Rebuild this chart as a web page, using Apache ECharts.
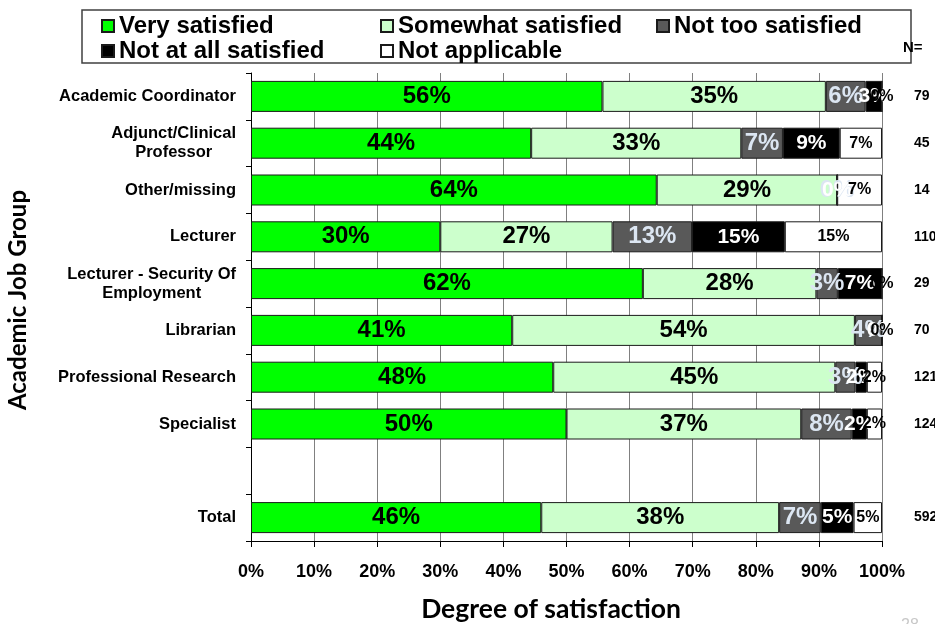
<!DOCTYPE html>
<html>
<head>
<meta charset="utf-8">
<script src="https://cdn.jsdelivr.net/npm/echarts@6/dist/echarts.min.js"></script>
<style>
  html, body { margin: 0; padding: 0; background: #ffffff; }
  #chart { width: 935px; height: 624px; }
</style>
</head>
<body>
<div id="chart"></div>
<script>
// Job groups, top to bottom (the empty entry leaves a spacer row above Total)
const categories = [
  'Academic Coordinator',
  'Adjunct/Clinical\nProfessor',
  'Other/missing',
  'Lecturer',
  'Lecturer - Security Of\nEmployment',
  'Librarian',
  'Professional Research',
  'Specialist',
  '',
  'Total'
];

// Share of respondents (%) in each satisfaction level
const verySatisfied     = [55.7, 44.4, 64.3, 30.0, 62.1, 41.4, 47.9, 50.0, '-', 46.0];
const somewhatSatisfied = [35.4, 33.3, 28.6, 27.3, 27.5, 54.3, 44.7, 37.2, '-', 37.7];
const notTooSatisfied   = [ 6.3,  6.6,  0.0, 12.6,  3.4,  4.3,  3.2,  8.0, '-',  6.6];
const notAtAllSatisfied = [ 2.6,  9.0,  0.0, 14.7,  7.0,  0.0,  1.8,  2.4, '-',  5.2];
const notApplicable     = [ 0.0,  6.7,  7.1, 15.4,  0.0,  0.0,  2.4,  2.4, '-',  4.5];

// Number of respondents per group
const respondents = ['79', '45', '14', '110', '29', '70', '121', '124', '', '592'];

const FONT = '"Liberation Sans", Arial, sans-serif';
const TITLE_FONT = 'Lato, "Open Sans", sans-serif';

function pctLabel(color, size) {
  return {
    show: true,
    position: 'inside',
    color: color,
    fontSize: size,
    fontWeight: 'bold',
    fontFamily: FONT,
    formatter: p => Math.round(p.value) + '%'
  };
}

function barSeries(name, data, fill, labelColor, labelSize) {
  return {
    name: name,
    type: 'bar',
    stack: 'total',
    barWidth: 31,
    data: data,
    itemStyle: { color: fill, borderColor: '#1a1a1a', borderWidth: 1 },
    label: pctLabel(labelColor, labelSize),
    emphasis: { disabled: true }
  };
}

const legendText = { fontSize: 24, fontWeight: 'bold', color: '#000', fontFamily: FONT };
function legendColumn(names, left) {
  return {
    data: names,
    orient: 'vertical',
    left: left,
    top: 14,
    itemGap: 1,
    itemWidth: 12,
    itemHeight: 12,
    icon: 'rect',
    padding: 0,
    selectedMode: false,
    textStyle: legendText
  };
}

const chart = echarts.init(document.getElementById('chart'), null, { renderer: 'canvas' });

chart.setOption({
  animation: false,
  backgroundColor: '#ffffff',
  grid: { left: 251, right: 53, top: 73, bottom: 83, outerBoundsMode: 'none', containLabel: false },
  legend: [
    legendColumn(['Very satisfied', 'Not at all satisfied'], 101),
    legendColumn(['Somewhat satisfied', 'Not applicable'], 380),
    legendColumn(['Not too satisfied'], 656)
  ],
  xAxis: {
    type: 'value',
    min: 0,
    max: 100,
    interval: 10,
    axisLine: { show: true, lineStyle: { color: '#000', width: 1 } },
    axisTick: { show: true, length: 6, lineStyle: { color: '#000' } },
    axisLabel: {
      margin: 22,
      formatter: '{value}%',
      fontSize: 18,
      fontWeight: 'bold',
      color: '#000',
      fontFamily: FONT
    },
    splitLine: { show: true, lineStyle: { color: '#808080', width: 1 } }
  },
  yAxis: [
    {
      type: 'category',
      inverse: true,
      data: categories,
      axisLine: { show: true, lineStyle: { color: '#000', width: 1 } },
      axisTick: { show: true, length: 5, lineStyle: { color: '#000' } },
      axisLabel: {
        margin: 15,
        formatter: v => v ? v.split('\n').map(s => '{c|' + s + '}').join('\n') : '',
        rich: {
          c: {
            fontSize: 16.5,
            fontWeight: 'bold',
            color: '#000',
            fontFamily: FONT,
            align: 'center',
            lineHeight: 19
          }
        }
      },
      splitLine: { show: false }
    },
    {
      type: 'category',
      inverse: true,
      position: 'right',
      data: respondents,
      axisLine: { show: false },
      axisTick: { show: false },
      axisLabel: {
        margin: 32,
        align: 'left',
        fontSize: 14,
        fontWeight: 'bold',
        color: '#000',
        fontFamily: FONT
      },
      splitLine: { show: false }
    }
  ],
  series: [
    barSeries('Very satisfied', verySatisfied, '#00ff00', '#000000', 24),
    barSeries('Somewhat satisfied', somewhatSatisfied, '#ccffcc', '#000000', 24),
    barSeries('Not too satisfied', notTooSatisfied, '#595959', '#dce6f2', 24),
    barSeries('Not at all satisfied', notAtAllSatisfied, '#000000', '#ffffff', 21),
    barSeries('Not applicable', notApplicable, '#ffffff', '#000000', 16)
  ],
  graphic: [
    {
      type: 'rect',
      silent: true,
      shape: { x: 82, y: 10, width: 829, height: 53 },
      style: { fill: 'none', stroke: '#404040', lineWidth: 1.5 }
    },
    {
      type: 'text',
      silent: true,
      x: 903,
      y: 48,
      style: {
        text: 'N=',
        fontSize: 15,
        fontWeight: 'bold',
        fontFamily: FONT,
        fill: '#000',
        align: 'left',
        verticalAlign: 'middle'
      }
    },
    {
      type: 'text',
      silent: true,
      x: 18,
      y: 300,
      rotation: Math.PI / 2,
      style: {
        text: 'Academic Job Group',
        fontSize: 24,
        fontWeight: 'bold',
        fontFamily: TITLE_FONT,
        fill: '#000',
        align: 'center',
        verticalAlign: 'middle'
      }
    },
    {
      type: 'text',
      silent: true,
      x: 551,
      y: 609,
      style: {
        text: 'Degree of satisfaction',
        fontSize: 26.5,
        fontWeight: 'bold',
        fontFamily: TITLE_FONT,
        fill: '#000',
        align: 'center',
        verticalAlign: 'middle'
      }
    },
    {
      type: 'text',
      silent: true,
      x: 901,
      y: 618,
      style: {
        text: '28',
        fontSize: 16,
        fontFamily: FONT,
        fill: '#c8c8c8',
        align: 'left',
        verticalAlign: 'top'
      }
    }
  ]
});
</script>
</body>
</html>
